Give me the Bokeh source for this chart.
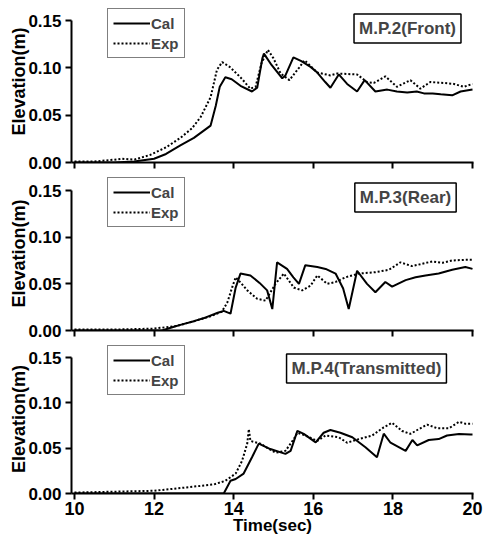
import math
from bokeh.plotting import figure
from bokeh.layouts import column
from bokeh.models import (Range1d, Legend, LegendItem, Label, FixedTicker,
                          NumeralTickFormatter, CustomLabelingPolicy)
from bokeh.embed import file_html
from bokeh.resources import INLINE

# ---------------- data ----------------
x_ticks = [10, 12, 14, 16, 18, 20]
y_ticks = [0.0, 0.05, 0.10, 0.15]
series_names = ["Cal", "Exp"]
panel_tags = ["M.P.2(Front)", "M.P.3(Rear)", "M.P.4(Transmitted)"]

t1_cal = [10.0, 11.0, 11.5, 12.0, 12.3, 12.66, 13.0, 13.42, 13.55, 13.65, 13.79, 13.95, 14.17,
          14.46, 14.59, 14.72, 14.76, 14.95, 15.22, 15.3, 15.5, 15.7, 15.93, 16.1, 16.3, 16.43,
          16.64, 16.85, 17.1, 17.29, 17.56, 17.86, 18.1, 18.36, 18.6, 18.78, 19.0, 19.2, 19.49,
          19.7, 20.0]
y1_cal = [0.0, 0.0, 0.001, 0.004, 0.009, 0.018, 0.026, 0.039, 0.060, 0.080, 0.090, 0.088, 0.081,
          0.075, 0.079, 0.110, 0.115, 0.103, 0.089, 0.092, 0.111, 0.107, 0.101, 0.095, 0.085, 0.079,
          0.093, 0.083, 0.075, 0.087, 0.075, 0.077, 0.075, 0.074, 0.075, 0.073, 0.073, 0.072, 0.071,
          0.075, 0.077]
t1_exp = [10.0, 10.5, 11.0, 11.2, 11.5, 11.9, 12.3, 12.66, 12.95, 13.17, 13.42, 13.58, 13.71,
          13.9, 14.17, 14.42, 14.55, 14.7, 14.86, 15.0, 15.18, 15.4, 15.64, 15.78, 16.1, 16.43,
          16.6, 17.1, 17.35, 17.52, 17.81, 18.1, 18.44, 18.69, 18.94, 19.28, 19.53, 19.78, 20.0]
y1_exp = [0.001, 0.001, 0.003, 0.004, 0.003, 0.008, 0.016, 0.026, 0.036, 0.048, 0.069, 0.098,
          0.106, 0.101, 0.090, 0.078, 0.080, 0.105, 0.119, 0.110, 0.094, 0.087, 0.100, 0.108,
          0.095, 0.092, 0.094, 0.093, 0.085, 0.084, 0.091, 0.080, 0.087, 0.078, 0.085, 0.084,
          0.083, 0.080, 0.083]

t2_cal = [10.0, 12.2, 12.5, 12.66, 13.0, 13.3, 13.6, 13.75, 13.92, 14.05, 14.17, 14.42, 14.65,
          14.84, 14.97, 15.09, 15.34, 15.5, 15.64, 15.8, 16.1, 16.31, 16.56, 16.75, 16.89, 17.1,
          17.35, 17.56, 17.81, 17.98, 18.32, 18.57, 18.82, 19.15, 19.49, 19.82, 20.0]
y2_cal = [0.0, 0.0, 0.004, 0.006, 0.010, 0.014, 0.019, 0.021, 0.018, 0.046, 0.061, 0.059, 0.051,
          0.043, 0.023, 0.073, 0.066, 0.057, 0.050, 0.070, 0.068, 0.066, 0.061, 0.045, 0.023,
          0.064, 0.050, 0.041, 0.052, 0.047, 0.054, 0.057, 0.059, 0.061, 0.065, 0.068, 0.066]
t2_exp = [10.0, 11.0, 12.0, 12.58, 13.0, 13.4, 13.7, 13.84, 13.96, 14.05, 14.2, 14.34, 14.59,
          14.8, 15.05, 15.26, 15.51, 15.72, 15.93, 16.1, 16.35, 16.56, 16.81, 17.14, 17.56, 17.9,
          18.19, 18.48, 18.73, 18.99, 19.24, 19.49, 19.82, 20.0]
y2_exp = [0.001, 0.001, 0.002, 0.005, 0.010, 0.015, 0.020, 0.030, 0.046, 0.057, 0.050, 0.043,
          0.034, 0.032, 0.050, 0.061, 0.046, 0.043, 0.048, 0.059, 0.050, 0.052, 0.057, 0.061,
          0.0625, 0.065, 0.073, 0.069, 0.0714, 0.074, 0.0725, 0.075, 0.0757, 0.0757]

t3_cal = [10.0, 13.75, 13.92, 14.05, 14.25, 14.46, 14.63, 14.92, 15.3, 15.43, 15.6, 15.76, 16.06,
          16.26, 16.43, 16.68, 16.98, 17.31, 17.6, 17.77, 17.94, 18.32, 18.49, 18.61, 18.9, 19.15,
          19.36, 19.66, 19.95, 20.0]
y3_cal = [0.0, 0.0, 0.014, 0.016, 0.022, 0.040, 0.055, 0.049, 0.0437, 0.047, 0.069, 0.0657,
          0.0564, 0.067, 0.070, 0.067, 0.062, 0.051, 0.040, 0.066, 0.056, 0.047, 0.059, 0.053,
          0.059, 0.060, 0.064, 0.0657, 0.065, 0.065]
t3_exp = [10.0, 11.0, 12.0, 12.66, 13.5, 13.79, 14.05, 14.21, 14.34, 14.38, 14.42, 14.67, 15.05,
          15.3, 15.51, 15.6, 15.8, 16.1, 16.31, 16.64, 16.85, 17.14, 17.48, 17.77, 17.98, 18.23,
          18.44, 18.65, 18.86, 19.11, 19.41, 19.66, 19.82, 20.0]
y3_exp = [0.001, 0.002, 0.003, 0.006, 0.010, 0.014, 0.022, 0.036, 0.055, 0.071, 0.058, 0.055,
          0.045, 0.047, 0.060, 0.067, 0.064, 0.058, 0.064, 0.062, 0.056, 0.060, 0.064, 0.073,
          0.078, 0.069, 0.0657, 0.071, 0.076, 0.072, 0.072, 0.079, 0.077, 0.077]

# ---------------- styling ----------------
FONT = "Liberation Sans"
Y_TOP = 0.15

# drop every tick label on the upper panels (tick marks stay)
NO_LABELS = CustomLabelingPolicy(code="""
try { for (const i of Array.from(indices)) { indices.unset(i) } } catch (e) {}
return indices
""")


def make_panel(height, b_bottom, data_px, tc, yc, te, ye, tag, tag_xy, leg_loc, bottom_axis):
    frame_h = height - b_bottom
    y_end = Y_TOP * frame_h / data_px     # frame reaches to the figure top; axis stops at 0.15
    p = figure(width=485, height=height, output_backend="svg", toolbar_location=None,
               x_range=Range1d(9.925, 20.025), y_range=Range1d(0.0, y_end),
               min_border_left=71, min_border_right=12,
               min_border_top=0, min_border_bottom=b_bottom)
    p.outline_line_color = None
    p.grid.visible = False
    p.background_fill_color = "white"
    p.border_fill_color = "white"

    rc = p.line(tc, yc, line_color="black", line_width=2)
    re = p.line(te, ye, line_color="black", line_width=2, line_dash="2 2")

    for ax in (p.xaxis[0], p.yaxis[0]):
        ax.axis_line_width = 2
        ax.major_tick_line_width = 2
        ax.major_tick_out = 6
        ax.major_tick_in = 0
        ax.minor_tick_line_color = None
        ax.major_label_text_font = FONT
        ax.major_label_text_font_style = "bold"
        ax.major_label_text_color = "black"
        ax.axis_label_text_font = FONT
        ax.axis_label_text_font_style = "bold"
        ax.axis_label_text_color = "black"

    p.yaxis.bounds = (0.0, Y_TOP)
    p.xaxis.ticker = FixedTicker(ticks=x_ticks)
    p.yaxis.ticker = FixedTicker(ticks=y_ticks)
    p.yaxis.formatter = NumeralTickFormatter(format="0.00")
    p.yaxis.major_label_text_font_size = "17px"
    p.yaxis.major_label_standoff = 4
    p.yaxis.axis_label = "Elevation(m)"
    p.yaxis.axis_label_text_font_size = "18px"
    p.yaxis.axis_label_standoff = -4
    if bottom_axis:
        p.xaxis.major_label_text_font_size = "18px"
        p.xaxis.major_label_standoff = 2
        p.xaxis.axis_label = "Time(sec)"
        p.xaxis.axis_label_text_font_size = "17px"
        p.xaxis.axis_label_standoff = -2
    else:
        p.xaxis.major_label_text_font_size = "0px"
        p.xaxis.major_label_standoff = 0
        p.xaxis.major_label_policy = NO_LABELS

    leg = Legend(items=[LegendItem(label=series_names[0], renderers=[rc]),
                        LegendItem(label=series_names[1], renderers=[re])],
                 location=leg_loc, border_line_color="black", border_line_width=1.5,
                 background_fill_color="white", background_fill_alpha=1.0,
                 label_text_font=FONT, label_text_font_style="bold",
                 label_text_font_size="15px", glyph_width=37, glyph_height=18,
                 label_height=18, label_standoff=1, padding=5, spacing=2, margin=0)
    p.add_layout(leg)

    p.add_layout(Label(x=tag_xy[0], y=tag_xy[1], x_units="screen", y_units="screen",
                       text=tag, text_align="center", text_baseline="middle",
                       text_font=FONT, text_font_style="bold", text_font_size="17px",
                       border_line_color="black", border_line_width=1.5,
                       background_fill_color="white", padding=5))
    return p


p1 = make_panel(176, 14, 142, t1_cal, y1_cal, t1_exp, y1_exp, panel_tags[0], (336, 134), (36, 104), False)
p2 = make_panel(168, 14, 140, t2_cal, y2_cal, t2_exp, y2_exp, panel_tags[1], (334, 133), (36, 103), False)
p3 = make_panel(197, 48, 136, t3_cal, y3_cal, t3_exp, y3_exp, panel_tags[2], (295, 125), (36, 98), True)

layout = column(p1, p2, p3, spacing=0)
open("out.html", "w").write(file_html(layout, INLINE))
